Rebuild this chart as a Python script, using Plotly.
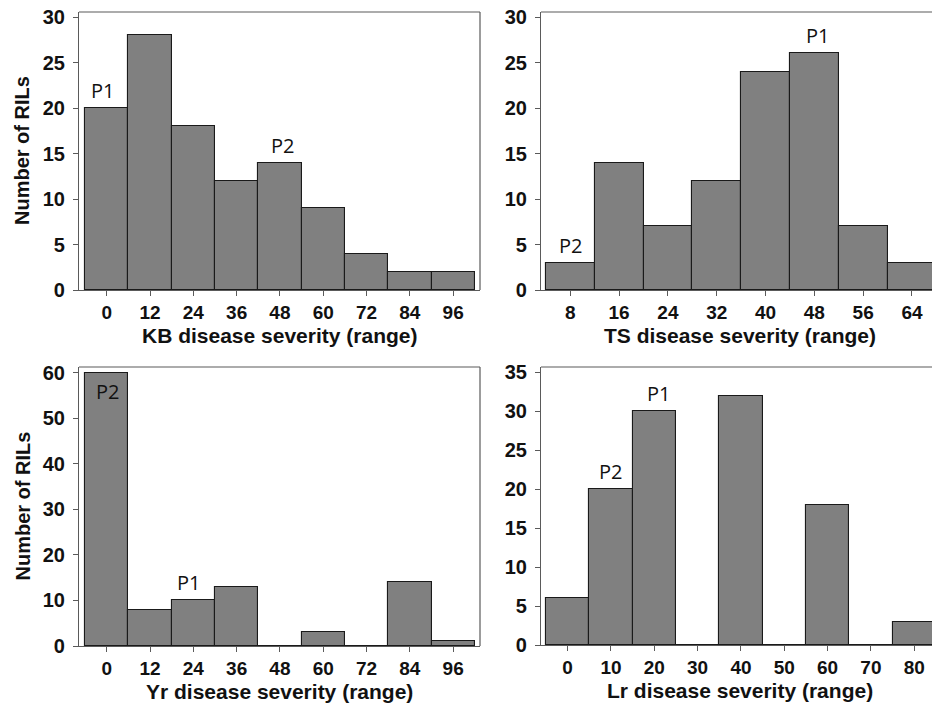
import plotly.graph_objects as go

# ---- data ----
kb_cats = ["0", "12", "24", "36", "48", "60", "72", "84", "96"]
kb_counts = [20, 28, 18, 12, 14, 9, 4, 2, 2]

ts_cats = ["8", "16", "24", "32", "40", "48", "56", "64"]
ts_counts = [3, 14, 7, 12, 24, 26, 7, 3]

yr_cats = ["0", "12", "24", "36", "48", "60", "72", "84", "96"]
yr_counts = [60, 8, 10, 13, 0, 3, 0, 14, 1]

lr_cats = ["0", "10", "20", "30", "40", "50", "60", "70", "80"]
lr_counts = [6, 20, 30, 0, 32, 0, 18, 0, 3]

x_titles = ["KB disease severity (range)", "TS disease severity (range)",
            "Yr disease severity (range)", "Lr disease severity (range)"]
y_title = "Number of RILs"
y_tickvals = [[0, 5, 10, 15, 20, 25, 30], [0, 5, 10, 15, 20, 25, 30],
              [0, 10, 20, 30, 40, 50, 60], [0, 5, 10, 15, 20, 25, 30, 35]]

# parent labels: (panel index, category index, text, above/inside)
parent_labels = [
    (0, 0, "P1", "above"), (0, 4, "P2", "above"),
    (1, 5, "P1", "above"), (1, 0, "P2", "above"),
    (2, 0, "P2", "inside"), (2, 2, "P1", "above"),
    (3, 2, "P1", "above"), (3, 1, "P2", "above"),
]

# ---- layout geometry ----
W, H = 932, 708
panels = [
    dict(cats=kb_cats, vals=kb_counts, xd=(79, 480), yd=(12, 290), xr=(-0.64, 8.62), yr=(0, 30.55)),
    dict(cats=ts_cats, vals=ts_counts, xd=(541, 932), yd=(12, 290), xr=(-0.60, 7.41), yr=(0, 30.55)),
    dict(cats=yr_cats, vals=yr_counts, xd=(79, 480), yd=(367, 646), xr=(-0.64, 8.62), yr=(0, 61.3)),
    dict(cats=lr_cats, vals=lr_counts, xd=(541, 932), yd=(367, 645), xr=(-0.615, 8.41), yr=(0, 35.7)),
]
label_shift = {(0, 0): -4, (0, 4): 3, (1, 5): 3, (1, 0): 0, (2, 0): 1, (2, 2): -5, (3, 2): 4, (3, 1): 0}

fig = go.Figure()
axis_color = "#5a5a5a"
font_bold = "Liberation Sans, Arial, sans-serif"
xtick_font = dict(family=font_bold, size=19, color="#111111", weight="bold")
ytick_font = dict(family=font_bold, size=20, color="#111111", weight="bold")

for i, p in enumerate(panels):
    sfx = "" if i == 0 else str(i + 1)
    fig.add_trace(go.Bar(
        x=p["cats"], y=p["vals"], xaxis="x" + sfx, yaxis="y" + sfx,
        marker=dict(color="#808080", line=dict(color="#1a1a1a", width=1.1)),
        showlegend=False, hoverinfo="x+y",
    ))
    xd = [p["xd"][0] / W, p["xd"][1] / W]
    yd = [1 - p["yd"][1] / H, 1 - p["yd"][0] / H]
    fig.layout["xaxis" + sfx] = dict(
        domain=xd, anchor="y" + sfx, type="category", range=list(p["xr"]),
        showline=True, linecolor=axis_color, linewidth=1.2,
        ticks="outside", ticklen=5, tickcolor=axis_color,
        tickfont=xtick_font, showgrid=False, zeroline=False, fixedrange=True,
        automargin=False,
    )
    fig.layout["yaxis" + sfx] = dict(
        domain=yd, anchor="x" + sfx, range=list(p["yr"]),
        tickvals=y_tickvals[i],
        showline=True, linecolor=axis_color, linewidth=1.2,
        ticks="outside", ticklen=5, tickcolor=axis_color, ticklabelstandoff=4,
        tickfont=ytick_font, showgrid=False, zeroline=False, fixedrange=True,
        automargin=False,
    )
    # top border
    fig.add_shape(type="line", xref="x" + sfx + " domain", yref="y" + sfx + " domain",
                  x0=0, x1=1, y0=1, y1=1, line=dict(color=axis_color, width=1.2))
    # right border (only visible for left panels)
    if p["xd"][1] < W:
        fig.add_shape(type="line", xref="x" + sfx + " domain", yref="y" + sfx + " domain",
                      x0=1, x1=1, y0=0, y1=1, line=dict(color=axis_color, width=1.2))
    # x axis title
    fig.add_annotation(
        text=x_titles[i], xref="paper", yref="paper",
        x=(sum(p["xd"]) / 2 + (3 if p["xd"][1] >= W else 0)) / W,
        y=1 - (p["yd"][1] + 45) / H, xanchor="center", yanchor="middle",
        showarrow=False,
        font=dict(family=font_bold, size=21, color="#111111", weight="bold"),
    )
    # y axis title (left column only)
    if p["xd"][0] < 100:
        fig.add_annotation(
            text=y_title, xref="paper", yref="paper",
            x=22 / W, y=1 - (sum(p["yd"]) / 2) / H, textangle=-90,
            xanchor="center", yanchor="middle", showarrow=False,
            font=dict(family=font_bold, size=20, color="#111111", weight="bold"),
        )

for (pi, ci, txt, pos) in parent_labels:
    p = panels[pi]
    sfx = "" if pi == 0 else str(pi + 1)
    fig.add_annotation(
        text=txt, xref="x" + sfx, yref="y" + sfx,
        x=ci, y=p["vals"][ci],
        xanchor="center", yanchor="bottom" if pos == "above" else "top",
        yshift=2 if pos == "above" else -3, xshift=label_shift[(pi, ci)],
        showarrow=False,
        font=dict(family="Open Sans, Noto Sans, sans-serif", size=20, color="#111111"),
    )

fig.update_layout(
    width=W, height=H, margin=dict(l=0, r=0, t=0, b=0),
    paper_bgcolor="white", plot_bgcolor="white", bargap=0,
)

fig.write_html(
    "out.html",
    config={"displayModeBar": False},
    post_script="document.body.style.margin='0';document.body.style.overflow='hidden';",
)
